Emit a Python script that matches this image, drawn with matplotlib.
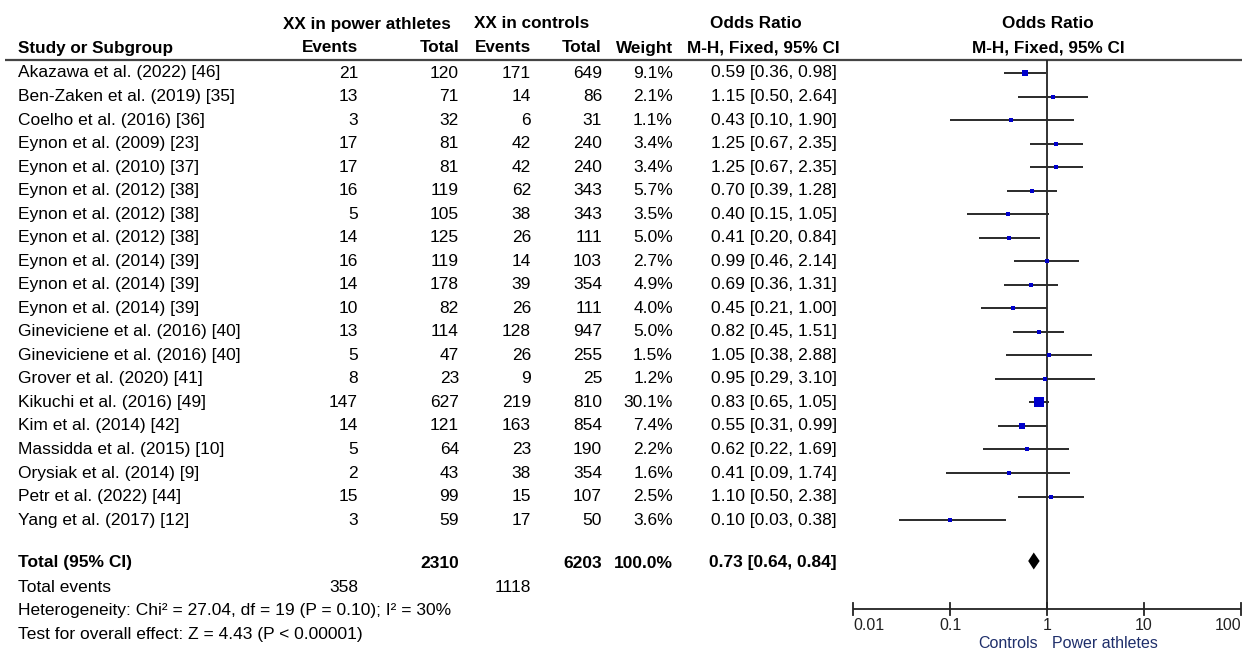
import matplotlib
matplotlib.use("Agg")
import matplotlib.pyplot as plt
import numpy as np

studies = ["Akazawa et al. (2022) [46]", "Ben-Zaken et al. (2019) [35]", "Coelho et al. (2016) [36]",
           "Eynon et al. (2009) [23]", "Eynon et al. (2010) [37]", "Eynon et al. (2012) [38]",
           "Eynon et al. (2012) [38]", "Eynon et al. (2012) [38]", "Eynon et al. (2014) [39]",
           "Eynon et al. (2014) [39]", "Eynon et al. (2014) [39]", "Gineviciene et al. (2016) [40]",
           "Gineviciene et al. (2016) [40]", "Grover et al. (2020) [41]", "Kikuchi et al. (2016) [49]",
           "Kim et al. (2014) [42]", "Massidda et al. (2015) [10]", "Orysiak et al. (2014) [9]",
           "Petr et al. (2022) [44]", "Yang et al. (2017) [12]"]
ev_pow = [21, 13, 3, 17, 17, 16, 5, 14, 16, 14, 10, 13, 5, 8, 147, 14, 5, 2, 15, 3]
tot_pow = [120, 71, 32, 81, 81, 119, 105, 125, 119, 178, 82, 114, 47, 23, 627, 121, 64, 43, 99, 59]
ev_ctl = [171, 14, 6, 42, 42, 62, 38, 26, 14, 39, 26, 128, 26, 9, 219, 163, 23, 38, 15, 17]
tot_ctl = [649, 86, 31, 240, 240, 343, 343, 111, 103, 354, 111, 947, 255, 25, 810, 854, 190, 354, 107, 50]
weight = [9.1, 2.1, 1.1, 3.4, 3.4, 5.7, 3.5, 5.0, 2.7, 4.9, 4.0, 5.0, 1.5, 1.2, 30.1, 7.4, 2.2, 1.6, 2.5, 3.6]
or_est = [0.59, 1.15, 0.43, 1.25, 1.25, 0.70, 0.40, 0.41, 0.99, 0.69, 0.45, 0.82, 1.05, 0.95, 0.83, 0.55, 0.62, 0.41, 1.10, 0.10]
ci_lo = [0.36, 0.50, 0.10, 0.67, 0.67, 0.39, 0.15, 0.20, 0.46, 0.36, 0.21, 0.45, 0.38, 0.29, 0.65, 0.31, 0.22, 0.09, 0.50, 0.03]
ci_hi = [0.98, 2.64, 1.90, 2.35, 2.35, 1.28, 1.05, 0.84, 2.14, 1.31, 1.00, 1.51, 2.88, 3.10, 1.05, 0.99, 1.69, 1.74, 2.38, 0.38]
total_pow, total_ctl = 2310, 6203
total_ev_pow, total_ev_ctl = 358, 1118
total_or, total_lo, total_hi = 0.73, 0.64, 0.84
tick_vals = [0.01, 0.1, 1, 10, 100]
tick_labels = ["0.01", "0.1", "1", "10", "100"]

W, H = 1242, 649
fig = plt.figure(figsize=(W / 100, H / 100), dpi=100)
bg = fig.add_axes([0, 0, 1, 1])
bg.set_xlim(0, W)
bg.set_ylim(H, 0)
bg.axis("off")

FONT = "Liberation Sans"
fs = 12.5
hfs = 12.3

def t(x, y, s, ha="left", bold=False, size=fs, color="black"):
    bg.text(x, y, s, ha=ha, va="center", fontsize=size, family=FONT,
            fontweight="bold" if bold else "normal", color=color)

# Headers
t(367, 24, "XX in power athletes", ha="center", bold=True, size=hfs)
t(532, 24, "XX in controls", ha="center", bold=True, size=hfs)
t(756, 24, "Odds Ratio", ha="center", bold=True, size=hfs)
t(1048, 24, "Odds Ratio", ha="center", bold=True, size=hfs)
t(18, 48, "Study or Subgroup", bold=True, size=hfs)
t(358, 48, "Events", ha="right", bold=True, size=hfs)
t(459, 48, "Total", ha="right", bold=True, size=hfs)
t(531, 48, "Events", ha="right", bold=True, size=hfs)
t(602, 48, "Total", ha="right", bold=True, size=hfs)
t(673, 48, "Weight", ha="right", bold=True, size=hfs)
t(763, 48, "M-H, Fixed, 95% CI", ha="center", bold=True, size=hfs)
t(1048, 48, "M-H, Fixed, 95% CI", ha="center", bold=True, size=hfs)
bg.plot([5, W], [60, 60], color="#444444", lw=1.6, solid_capstyle="butt")

y0, dy = 73, 23.53
rows_y = [y0 + i * dy for i in range(len(studies))]
for i, y in enumerate(rows_y):
    t(18, y, studies[i])
    t(358, y, str(ev_pow[i]), ha="right")
    t(459, y, str(tot_pow[i]), ha="right")
    t(531, y, str(ev_ctl[i]), ha="right")
    t(602, y, str(tot_ctl[i]), ha="right")
    t(673, y, f"{weight[i]:.1f}%", ha="right")
    t(837, y, f"{or_est[i]:.2f} [{ci_lo[i]:.2f}, {ci_hi[i]:.2f}]", ha="right")

yt = 563
t(18, yt, "Total (95% CI)", bold=True)
t(459, yt, str(total_pow), ha="right", bold=True)
t(602, yt, str(total_ctl), ha="right", bold=True)
t(673, yt, "100.0%", ha="right", bold=True)
t(837, yt, f"{total_or:.2f} [{total_lo:.2f}, {total_hi:.2f}]", ha="right", bold=True)
t(18, 588, "Total events")
t(358, 588, str(total_ev_pow), ha="right")
t(531, 588, str(total_ev_ctl), ha="right")
t(18, 611, "Heterogeneity: Chi\u00b2 = 27.04, df = 19 (P = 0.10); I\u00b2 = 30%")
t(18, 634, "Test for overall effect: Z = 4.43 (P < 0.00001)")

# Forest axes: x from 853 to 1241 px, y from 0 to H px
x0p, x1p = 853, 1241
ax = fig.add_axes([x0p / W, 0, (x1p - x0p) / W, 1])
ax.set_xscale("log")
ax.set_xlim(0.01, 100)
ax.set_ylim(H, 0)
ax.axis("off")
ax.patch.set_alpha(0)

# null line
ax.plot([1, 1], [60, 609], color="#222222", lw=1.3, solid_capstyle="butt", zorder=2)

for i, y in enumerate(rows_y):
    ax.plot([ci_lo[i], ci_hi[i]], [y, y], color="#2a2a2a", lw=1.4, solid_capstyle="butt", zorder=3)
    side_px = max(3.2, 10.5 * np.sqrt(weight[i] / 30.1))
    ax.plot([or_est[i]], [y], marker="s", ms=side_px * 0.72, color="#0000CC",
            mec="#0000CC", mew=0, ls="none", zorder=4)

# diamond
dh = 8.5
ax.fill([total_lo, total_or, total_hi, total_or], [561, 561 - dh, 561, 561 + dh],
        color="black", zorder=4, lw=0)

# axis
ya = 609
ax.plot([0.01, 100], [ya, ya], color="#222222", lw=1.3, solid_capstyle="butt", clip_on=False)
for v, lab in zip(tick_vals, tick_labels):
    ax.plot([v, v], [ya - 6, ya + 6], color="#222222", lw=1.3, clip_on=False)
    ha = "center"
    if v == tick_vals[0]:
        ha = "left"
    elif v == tick_vals[-1]:
        ha = "right"
    ax.text(v, 625, lab, ha=ha, va="center", fontsize=11.5, family=FONT, color="#222222")

ax.text(0.8, 643, "Controls", ha="right", va="center", fontsize=11.5, family=FONT, color="#1F2F6B")
ax.text(1.12, 643, "Power athletes", ha="left", va="center", fontsize=11.5, family=FONT, color="#1F2F6B")

fig.savefig("out.png", dpi=100)
